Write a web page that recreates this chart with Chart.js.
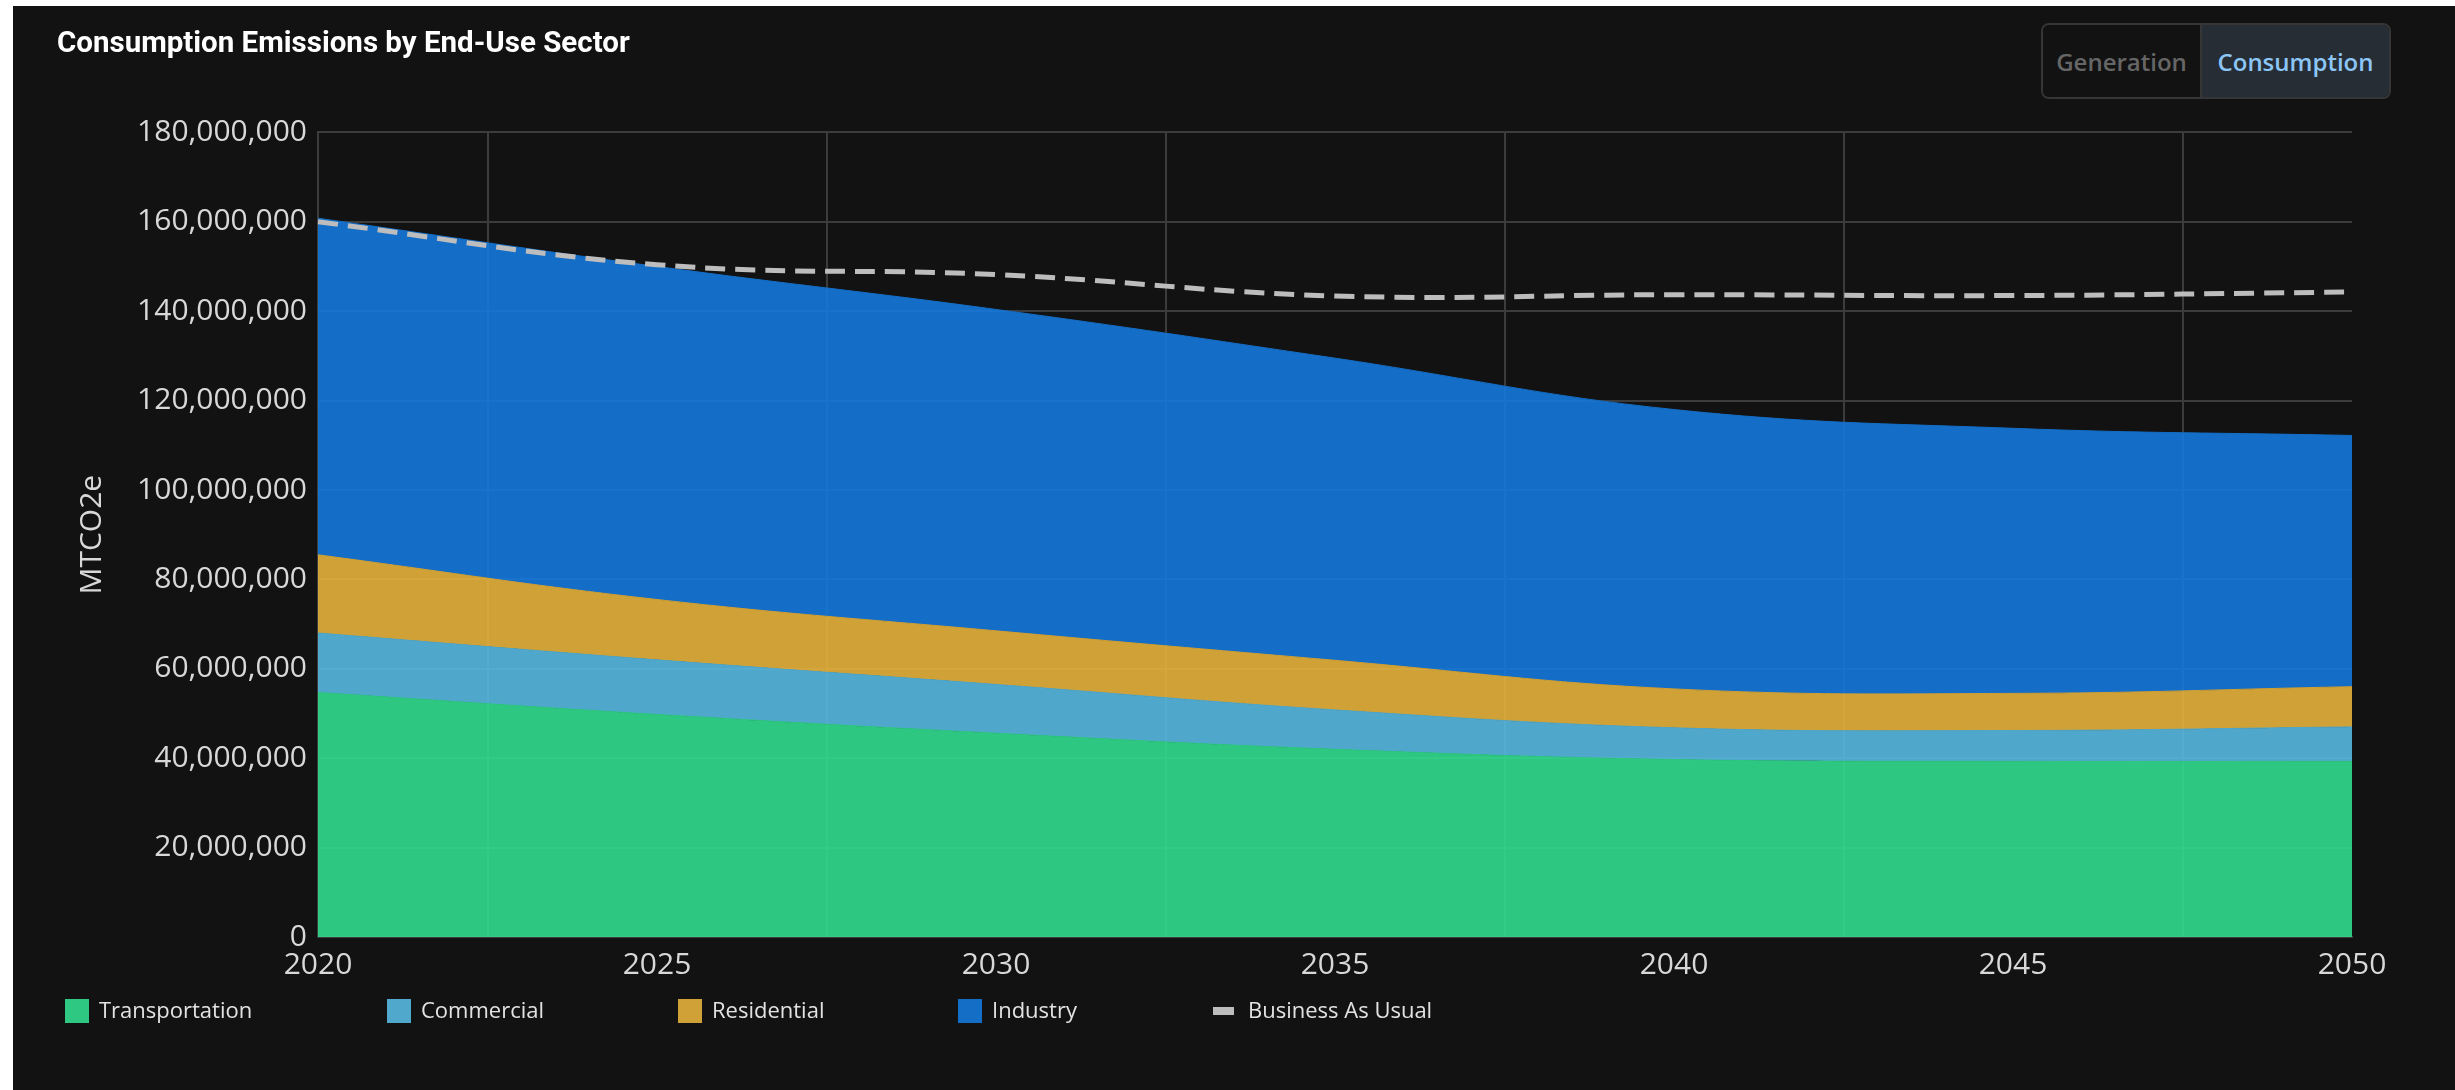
<!DOCTYPE html>
<html>
<head>
<meta charset="utf-8">
<script src="https://cdn.jsdelivr.net/npm/chart.js@4.4.1/dist/chart.umd.min.js"></script>
<style>
  html, body { margin: 0; padding: 0; background: #ffffff; width: 2455px; height: 1090px; overflow: hidden; }
  #panel { position: absolute; left: 13px; top: 6px; width: 2442px; height: 1084px; background: #121212; }
  #chart { position: absolute; left: 0; top: 0; }
  .toggle { position: absolute; left: 2028px; top: 17px; width: 350px; height: 76px; box-sizing: border-box;
            display: flex; border: 2px solid #363636; border-radius: 8px; overflow: hidden;
            font-family: 'Open Sans', sans-serif; font-weight: 600; font-size: 24px; }
  .toggle div { display: flex; align-items: center; justify-content: center; box-sizing: border-box; }
  .gen { width: 159px; color: #666666; background: #121212; border-right: 2px solid #363636; }
  .con { flex: 1; color: #8cc6f7; background: #262d35; }
</style>
</head>
<body>
<div id="panel">
  <canvas id="chart" width="2442" height="1084"></canvas>
  <div class="toggle"><div class="gen">Generation</div><div class="con">Consumption</div></div>
</div>
<script>
// ---- Data (MTCO2e) ----
const years = ['2020', '2025', '2030', '2035', '2040', '2045', '2050'];
const transportation = [54700000, 49800000, 45600000, 42000000, 39700000, 39300000, 39300000];
const commercial     = [13300000, 12200000, 10900000, 8800000, 7100000, 6900000, 7700000];
const residential    = [17500000, 13500000, 12000000, 11100000, 8700000, 8300000, 9000000];
const industry       = [75300000, 74500000, 71900000, 67600000, 62500000, 59300000, 56200000];
const businessAsUsual = [160000000, 150400000, 148200000, 143400000, 143700000, 143500000, 144300000];
const seriesNames = ['Transportation', 'Commercial', 'Residential', 'Industry', 'Business As Usual'];

// ---- Styles ----
const solidColors = ['#2ec882', '#50a8cc', '#cfa137', '#156ec6'];
const fillColors  = ['rgba(49,220,142,0.9)', 'rgba(87,185,225,0.9)', 'rgba(228,177,59,0.9)', 'rgba(21,120,218,0.9)'];
const gridColor = '#3c3c3c';
const tickColor = '#d8d8d8';
const legendSlots = [52, 374, 665, 945, 1200];

Chart.defaults.font.family = "'Open Sans', sans-serif";

const sectorSeries = [transportation, commercial, residential, industry];
const datasets = sectorSeries.map((vals, i) => ({
  label: seriesNames[i],
  data: vals,
  stack: 'sectors',
  order: 1,
  fill: i === 0 ? 'origin' : '-1',
  backgroundColor: fillColors[i],
  borderColor: solidColors[i],
  legendColor: solidColors[i],
  borderWidth: 1,
  pointRadius: 0,
  pointHoverRadius: 0,
  tension: 0.4
}));
datasets.push({
  label: seriesNames[4],
  data: businessAsUsual,
  stack: 'bau',
  order: 0,
  fill: false,
  borderColor: '#bdbdbd',
  backgroundColor: '#bdbdbd',
  legendLine: true,
  borderWidth: 5,
  borderDash: [20, 10],
  pointRadius: 0,
  pointHoverRadius: 0,
  tension: 0.4
});

const legendPlugin = {
  id: 'sectorLegend',
  afterDraw(chart) {
    const ctx = chart.ctx;
    ctx.save();
    ctx.font = "22px 'Open Sans', sans-serif";
    ctx.textBaseline = 'middle';
    ctx.textAlign = 'left';
    const cy = 1005;
    chart.data.datasets.forEach((ds, i) => {
      const x = legendSlots[i];
      let tx;
      if (ds.legendLine) {
        ctx.fillStyle = ds.borderColor;
        ctx.fillRect(x, cy - 4, 21, 8);
        tx = x + 35;
      } else {
        ctx.fillStyle = ds.legendColor;
        ctx.fillRect(x, cy - 12, 24, 24);
        tx = x + 34;
      }
      ctx.fillStyle = '#e2e2e2';
      ctx.fillText(ds.label, tx, cy + 1);
    });
    ctx.restore();
  }
};

new Chart(document.getElementById('chart'), {
  type: 'line',
  data: { labels: years, datasets: datasets },
  plugins: [legendPlugin],
  options: {
    responsive: false,
    animation: false,
    layout: { padding: { left: 44, right: 103, top: 0, bottom: 97 } },
    interaction: { mode: 'index', intersect: false },
    plugins: {
      legend: { display: false },
      tooltip: { enabled: false },
      title: {
        display: true,
        text: 'Consumption Emissions by End-Use Sector',
        align: 'start',
        color: '#ffffff',
        font: { family: 'Roboto', weight: 'bold', size: 29.5 },
        padding: { top: 21, bottom: 70 }
      }
    },
    scales: {
      x: {
        ticks: { color: tickColor, font: { size: 30 }, padding: 10, autoSkip: false, maxRotation: 0 },
        grid: { offset: true, color: gridColor, lineWidth: 2, drawTicks: false },
        border: { color: gridColor, width: 2 }
      },
      y: {
        stacked: true,
        min: 0,
        max: 180000000,
        ticks: {
          stepSize: 20000000,
          color: tickColor,
          font: { size: 30 },
          padding: 11,
          callback: v => Number(v).toLocaleString('en-US')
        },
        grid: { color: gridColor, lineWidth: 2, drawTicks: false },
        border: { color: gridColor, width: 2 },
        title: { display: true, text: 'MTCO2e', color: tickColor, font: { size: 30 }, padding: { top: 17, bottom: 10 } },
        afterFit: s => { s.width = 261; }
      }
    }
  }
});
</script>
</body>
</html>
